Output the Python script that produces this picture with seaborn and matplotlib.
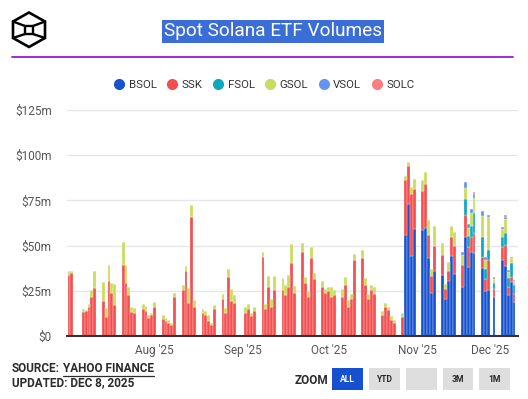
import numpy as np
import pandas as pd
import matplotlib
matplotlib.use("Agg")
import matplotlib.pyplot as plt
import matplotlib.dates as mdates
import matplotlib.transforms as mtrans
from matplotlib.lines import Line2D
from matplotlib.patches import Rectangle, Polygon
from matplotlib.ticker import FuncFormatter
import seaborn as sns

# ---------------- data ----------------
holidays = ["2025-07-04", "2025-09-01", "2025-11-27"]
trading_days = [d for d in pd.bdate_range("2025-07-02", "2025-12-05")
                if d.strftime("%Y-%m-%d") not in holidays]

funds = ["BSOL", "SSK", "FSOL", "GSOL", "VSOL", "SOLC"]
colors = ["#1753cf", "#f44e4e", "#0aa9bd", "#c9dc5c", "#6394ee", "#f88080"]

ssk = [33.8, 34.6,
       13.4, 14.0, 16.2, 21.7, 26.7,
       19.3, 10.7, 30.2, 23.9, 16.9,
       39.5, 29.4, 22.8, 13.2, 12.9,
       14.9, 14.0, 9.9, 11.4, 15.8,
       9.2, 8.1, 7.0, 6.2, 21.4,
       25.4, 35.7, 18.0, 65.8, 15.8,
       12.5, 11.4, 8.4, 6.2, 14.7,
       20.6, 12.9, 32.4, 19.1, 18.0,
       12.9, 15.1, 11.0, 13.6,
       43.8, 14.7, 26.9, 15.8, 25.4,
       25.4, 22.8, 26.9, 40.1, 23.9,
       46.4, 29.4, 21.7, 43.4, 31.3,
       26.9, 23.9, 25.0, 21.7, 22.8,
       21.7, 28.0, 16.2, 20.6, 41.9,
       43.0, 28.0, 20.2, 25.4, 23.2,
       11.8, 16.2, 14.3, 8.8, 7.0,
       10.7, 30.6, 21.0, 33.9, 22.1,
       21.3, 24.7, 12.5, 9.2, 13.7,
       11.4, 5.9, 5.8, 10.3, 15.3,
       12.6, 12.2, 11.0, 8.1, 10.7,
       6.3, 6.6, 16.9, 4.1,
       7.0, 11.8, 4.4, 2.9, 4.4]

gsol = [2.4, 1.1,
        1.3, 0.6, 1.5, 3.7, 9.5,
        10.5, 4.9, 8.8, 5.2, 11.8,
        12.7, 9.6, 4.1, 2.6, 2.6,
        2.8, 2.6, 1.5, 1.5, 3.0,
        2.2, 1.8, 1.8, 1.1, 2.5,
        2.6, 2.9, 8.5, 6.5, 4.1,
        2.2, 2.6, 3.0, 0.8, 2.2,
        2.9, 2.6, 4.4, 6.7, 4.5,
        2.9, 2.6, 1.5, 2.2,
        2.9, 3.0, 6.2, 4.4, 7.7,
        6.6, 5.5, 6.6, 10.7, 3.7,
        4.8, 3.3, 3.0, 5.6, 3.3,
        3.6, 2.2, 2.2, 5.5, 2.6,
        4.4, 4.4, 3.7, 2.9, 3.7,
        4.8, 4.0, 3.0, 2.6, 3.7,
        1.8, 1.8, 1.5, 2.2, 1.8,
        2.2, 2.2, 1.8, 4.0, 5.5,
        5.9, 6.6, 8.1, 4.0, 11.4,
        6.3, 2.6, 5.2, 6.3, 8.0,
        5.4, 6.3, 4.8, 6.9, 8.5,
        11.8, 5.0, 18.3, 2.2,
        4.7, 7.7, 3.3, 2.9, 2.2]

# BSOL trades from Oct 28 (no volume before)
bsol = [0.0] * 82 + [55.9, 73.2, 44.5, 59.2,
                     58.9, 59.6, 43.4, 23.9, 36.0,
                     33.5, 20.2, 30.2, 44.4, 34.4,
                     26.9, 54.8, 38.3, 46.4, 46.0,
                     37.5, 25.0, 25.4, 21.7,
                     42.3, 38.6, 22.8, 29.8, 18.8]
fsol = [0.0] * 96 + [0.0, 8.8, 5.9, 6.6, 11.3,
                     11.0, 5.5, 5.2, 3.3,
                     5.2, 6.6, 4.8, 7.4, 4.8]
vsol = [0.0] * 96 + [1.5, 3.3, 1.8, 2.3, 2.2,
                     2.6, 1.5, 1.1, 1.1,
                     1.1, 1.1, 1.0, 0.8, 0.7]
solc = [0.0] * 96 + [0.0, 0.0, 0.0, 0.0, 0.8,
                     0.0, 0.0, 0.0, 0.0,
                     0.0, 1.1, 0.0, 0.0, 0.0]

y_ticks = [0, 25, 50, 75, 100, 125]

# ---------------- build table ----------------
series = {"BSOL": bsol, "SSK": ssk, "FSOL": fsol, "GSOL": gsol,
          "VSOL": vsol, "SOLC": solc}
day_num = mdates.date2num(pd.to_datetime(trading_days).to_pydatetime())
rows = []
for f in funds:
    for dn, v in zip(day_num, series[f]):
        rows.append({"day": dn, "fund": f, "value": v})
df = pd.DataFrame(rows)

# ---------------- style ----------------
sns.set_style("white")
plt.rcParams["font.family"] = ["Roboto", "DejaVu Sans"]

W, H = 528, 399
fig = plt.figure(figsize=(W / 100, H / 100), dpi=100)
fx = lambda x: x / W
fy = lambda y: 1 - y / H
tf = fig.transFigure

ax = fig.add_axes([fx(67), fy(336), (518 - 67) / W, (336 - 110) / H])

palette = dict(zip(funds, colors))
sns.histplot(data=df, x="day", weights="value", hue="fund",
             hue_order=funds[::-1], multiple="stack", discrete=True,
             shrink=1.0, palette=palette, alpha=1, edgecolor="#ffffff",
             linewidth=0.2, legend=False, ax=ax)

ax.set_xlim(day_num[0] - 0.7, day_num[-1] + 1.4)
ax.set_ylim(0, 125)
ax.set_yticks(y_ticks)
ax.yaxis.set_major_formatter(FuncFormatter(lambda v, p: "$0" if v == 0 else f"${int(v)}m"))
ax.xaxis.set_major_locator(mdates.MonthLocator())
ax.xaxis.set_major_formatter(mdates.DateFormatter("%b '%y"))
ax.set_xlabel("")
ax.set_ylabel("")
ax.grid(axis="y", color="#e6e6e6", lw=1)
ax.grid(axis="x", visible=False)
ax.set_axisbelow(True)
for s in ["top", "right", "left"]:
    ax.spines[s].set_visible(False)
ax.spines["bottom"].set_color("#333333")
ax.spines["bottom"].set_linewidth(1.5)
ax.tick_params(axis="both", length=0, labelsize=8.5, labelcolor="#555555")
ax.tick_params(axis="y", pad=11)
ax.tick_params(axis="x", pad=6)

# keep last x label inside the plot
fig.canvas.draw()
xl = ax.get_xticklabels()
if xl:
    xl[-1].set_horizontalalignment("right")
    xl[-1].set_transform(xl[-1].get_transform() +
                         mtrans.ScaledTranslation(0.07, 0, fig.dpi_scale_trans))

# ---------------- header ----------------
hexpts = [(29, 12.5), (45, 21.5), (45, 38), (29, 47), (13, 38), (13, 21.5)]
fig.patches.append(Polygon([(fx(a), fy(b)) for a, b in hexpts], closed=True, fill=False,
                           ec="black", lw=1.9, transform=tf))
sq = [(25, 26), (33, 26), (33, 34), (25, 34)]
fig.patches.append(Polygon([(fx(a), fy(b)) for a, b in sq], closed=True, fill=False,
                           ec="black", lw=1.7, transform=tf))
for (a, b), (c, d) in [((13, 21.5), (25, 26)), ((45, 21.5), (33, 26)),
                       ((13, 38), (25, 34)), ((45, 38), (33, 34))]:
    fig.lines.append(Line2D([fx(a), fx(c)], [fy(b), fy(d)], color="black", lw=1.7, transform=tf))

fig.patches.append(Rectangle((fx(162), fy(43)), (384 - 162) / W, (43 - 20) / H,
                             fc="#3b6dd6", ec="none", transform=tf))
fig.text(fx(273), fy(31.5), "Spot Solana ETF Volumes", ha="center", va="center",
         color="white", fontsize=13.7)
fig.lines.append(Line2D([fx(12), fx(513)], [fy(57.3), fy(57.3)], color="#9a16d8",
                        lw=1.3, transform=tf))

handles = [Line2D([], [], marker="o", ls="", markersize=7, markerfacecolor=c,
                  markeredgecolor=c) for c in colors]
fig.legend(handles, funds, loc="center", bbox_to_anchor=(fx(265), fy(85)), ncol=6,
           frameon=False, fontsize=8.2, handlelength=0.6, handletextpad=0.55,
           columnspacing=1.05, labelcolor="#333333")

# ---------------- footer ----------------
dark = "#2b2b2b"
fig.text(fx(12), fy(369), "SOURCE:", fontsize=8.5, fontweight="bold", color=dark, va="center")
yf = fig.text(fx(63), fy(369), "YAHOO FINANCE", fontsize=8.5, fontweight="bold", color=dark, va="center")
fig.text(fx(12), fy(383), "UPDATED: DEC 8, 2025", fontsize=8.5, fontweight="bold", color=dark, va="center")
fig.canvas.draw()
bb = yf.get_window_extent().transformed(tf.inverted())
fig.lines.append(Line2D([bb.x0, bb.x1], [fy(375.5), fy(375.5)], color=dark, lw=0.9, transform=tf))

fig.text(fx(295), fy(380), "ZOOM", fontsize=8.5, fontweight="bold", color=dark, va="center")
buttons = [("ALL", 332, 363, "#1650d0", "white"), ("YTD", 369, 400, "#dedede", dark),
           ("", 406, 437, "#dedede", dark), ("3M", 443, 473, "#dedede", dark),
           ("1M", 479, 510, "#dedede", dark)]
for lab, x0, x1, fc, tc in buttons:
    fig.patches.append(Rectangle((fx(x0), fy(390)), (x1 - x0) / W, 22 / H, fc=fc,
                                 ec="none", transform=tf))
    if lab:
        fig.text(fx((x0 + x1) / 2), fy(379.5), lab, fontsize=6.2, fontweight="bold",
                 color=tc, ha="center", va="center")

fig.savefig("out.png", dpi=100)
